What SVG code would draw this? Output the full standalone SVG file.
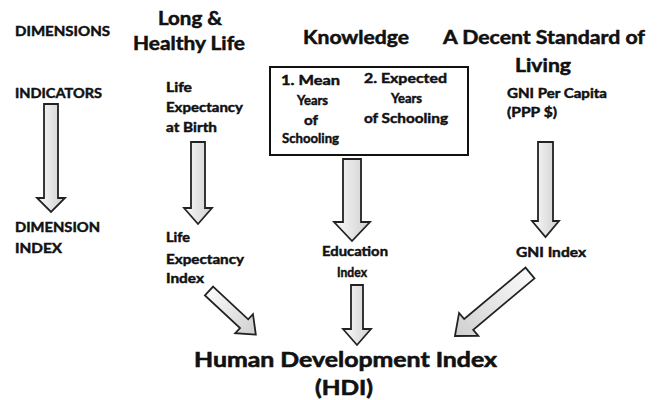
<svg xmlns="http://www.w3.org/2000/svg" width="661" height="400" viewBox="0 0 661 400">
<defs>
<linearGradient id="g" x1="0" y1="0" x2="1" y2="0">
<stop offset="0" stop-color="#fafafa"/>
<stop offset="1" stop-color="#cfcfcf"/>
</linearGradient>
<style>
text{font-family:Lato,"Liberation Sans",sans-serif;font-weight:bold;fill:#111;stroke:#111;stroke-width:0.45}
.s{font-size:13px}
.h{font-size:13px}
.t{font-size:18px;stroke-width:0.5}
.b{font-size:21px;stroke-width:0.6}
.arr{fill:url(#g);stroke:#222;stroke-width:1.8;stroke-linejoin:miter}
.box{fill:none;stroke:#111;stroke-width:2}
</style>
</defs>
<rect width="661" height="400" fill="#fff"/>

<g id="row-labels">
<text class="h" x="15" y="36" textLength="95" lengthAdjust="spacingAndGlyphs">DIMENSIONS</text>
<text class="h" x="15" y="98" textLength="87" lengthAdjust="spacingAndGlyphs">INDICATORS</text>
<text class="h" x="15" y="232" textLength="85" lengthAdjust="spacingAndGlyphs">DIMENSION</text>
<text class="h" x="15" y="253" textLength="47" lengthAdjust="spacingAndGlyphs">INDEX</text>
</g>

<g id="dim-health">
<text class="t" x="158" y="25" textLength="64" lengthAdjust="spacingAndGlyphs">Long &amp;</text>
<text class="t" x="133" y="50" textLength="112" lengthAdjust="spacingAndGlyphs">Healthy Life</text>
</g>
<g id="dim-knowledge">
<text class="t" x="303" y="44" textLength="106" lengthAdjust="spacingAndGlyphs">Knowledge</text>
</g>
<g id="dim-living">
<text class="t" x="443" y="44" textLength="202" lengthAdjust="spacingAndGlyphs">A Decent Standard of</text>
<text class="t" x="515" y="72" textLength="56" lengthAdjust="spacingAndGlyphs">Living</text>
</g>

<g id="ind-life">
<text class="s" x="166" y="92" textLength="26" lengthAdjust="spacingAndGlyphs">Life</text>
<text class="s" x="166" y="112" textLength="77" lengthAdjust="spacingAndGlyphs">Expectancy</text>
<text class="s" x="166" y="132" textLength="51" lengthAdjust="spacingAndGlyphs">at Birth</text>
</g>
<g id="ind-education">
<rect class="box" x="270" y="67" width="198" height="88"/>
<text class="s" x="281" y="85" textLength="59" lengthAdjust="spacingAndGlyphs">1. Mean</text>
<text class="s" x="297" y="105" textLength="31" lengthAdjust="spacingAndGlyphs">Years</text>
<text class="s" x="304" y="125" textLength="14" lengthAdjust="spacingAndGlyphs">of</text>
<text class="s" x="282" y="143" textLength="57" lengthAdjust="spacingAndGlyphs">Schooling</text>
<text class="s" x="364" y="83" textLength="83" lengthAdjust="spacingAndGlyphs">2. Expected</text>
<text class="s" x="391" y="103" textLength="31" lengthAdjust="spacingAndGlyphs">Years</text>
<text class="s" x="364" y="123" textLength="84" lengthAdjust="spacingAndGlyphs">of Schooling</text>
</g>
<g id="ind-gni">
<text class="s" x="507" y="98" textLength="100" lengthAdjust="spacingAndGlyphs">GNI Per Capita</text>
<text class="s" x="507" y="117" textLength="50" lengthAdjust="spacingAndGlyphs">(PPP $)</text>
</g>

<g id="idx-life">
<text class="s" x="166" y="242" textLength="24" lengthAdjust="spacingAndGlyphs">Life</text>
<text class="s" x="166" y="264" textLength="78" lengthAdjust="spacingAndGlyphs">Expectancy</text>
<text class="s" x="166" y="283" textLength="38" lengthAdjust="spacingAndGlyphs">Index</text>
</g>
<g id="idx-education">
<text class="s" x="322" y="256" textLength="66" lengthAdjust="spacingAndGlyphs">Education</text>
<text class="s" x="337" y="277" textLength="30" lengthAdjust="spacingAndGlyphs">Index</text>
</g>
<g id="idx-gni">
<text class="s" x="516" y="257" textLength="70" lengthAdjust="spacingAndGlyphs">GNI Index</text>
</g>

<g id="hdi">
<text class="b" x="194" y="367" textLength="303" lengthAdjust="spacingAndGlyphs">Human Development Index</text>
<text class="b" x="315" y="395" textLength="58" lengthAdjust="spacingAndGlyphs">(HDI)</text>
</g>

<g id="connectors">
<polygon class="arr" points="44,104 58,104 58,198 65,198 51,212 37,198 44,198"/>
<polygon class="arr" points="191,142 205,142 205,208 212,208 198,224 184,208 191,208"/>
<polygon class="arr" points="343,159 361,159 361,222 370,222 352,241 334,222 343,222"/>
<polygon class="arr" points="538,142 553,142 553,221 559,221 545.5,237 532,221 538,221"/>
<polygon class="arr" points="351,285 363,285 363,329 371,329 357,345 343,329 351,329"/>
<polygon class="arr" transform="translate(209,291) rotate(43)" points="0,-6 48,-6 48,-13 64,0 48,13 48,6 0,6"/>
<polygon class="arr" transform="translate(530,273) rotate(140)" points="0,-7 80,-7 80,-15 98,0 80,15 80,7 0,7"/>
</g>
</svg>
